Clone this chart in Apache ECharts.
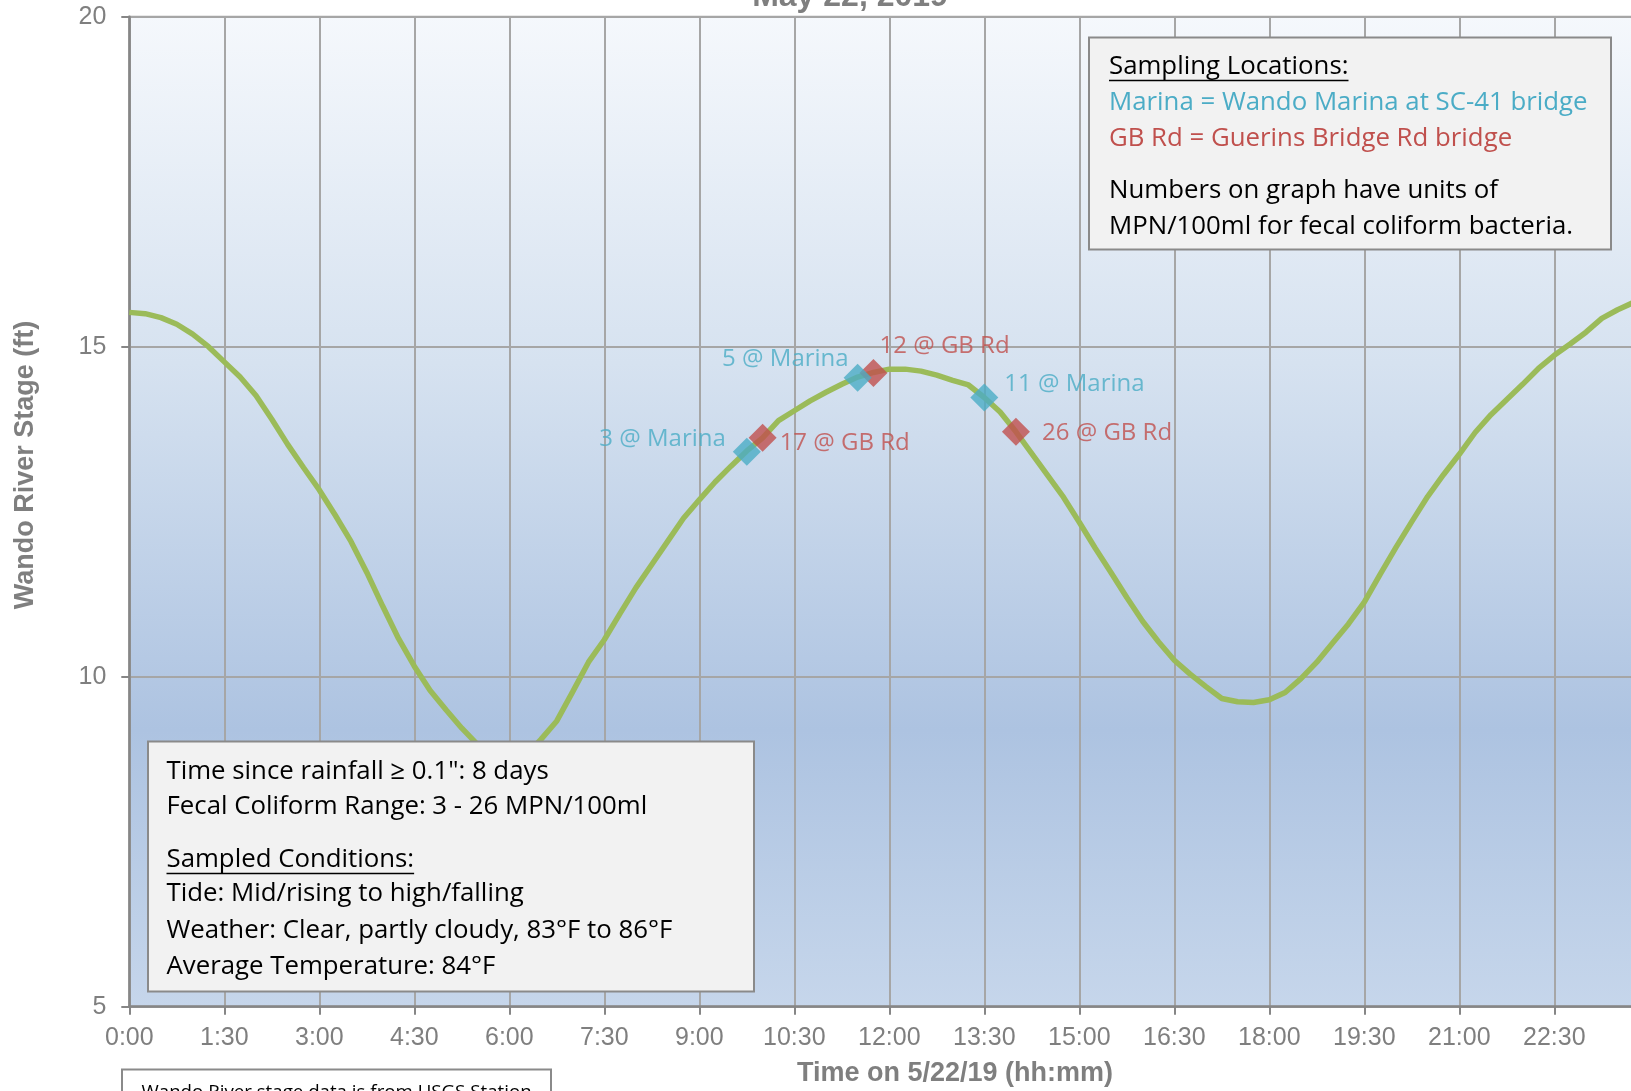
<!DOCTYPE html>
<html>
<head>
<meta charset="utf-8">
<script src="https://cdn.jsdelivr.net/npm/echarts@6/dist/echarts.min.js"></script>
<style>
html,body{margin:0;padding:0;background:#fff;}
#chart{width:1631px;height:1091px;}
</style>
</head>
<body>
<div id="chart"></div>
<script>
// ---------------- DATA ----------------
const chartTitle = 'May 22, 2019';
const yAxisName = 'Wando River Stage (ft)';
const xAxisName = 'Time on 5/22/19 (hh:mm)';
const tickLabels = ['0:00','1:30','3:00','4:30','6:00','7:30','9:00','10:30','12:00','13:30','15:00','16:30','18:00','19:30','21:00','22:30','24:00'];
// stage readings: minutes after midnight and river stage (ft)
const stageTimes = [0,15,30,45,60,75,90,105,120,135,150,165,180,195,210,225,240,255,270,285,300,315,330,345,360,375,390,405,420,435,450,465,480,495,510,525,540,555,570,585,600,615,630,645,660,675,690,705,720,735,750,765,780,795,810,825,840,855,870,885,900,915,930,945,960,975,990,1005,1020,1035,1050,1065,1080,1095,1110,1125,1140,1155,1170,1185,1200,1215,1230,1245,1260,1275,1290,1305,1320,1335,1350,1365,1380,1395,1410,1425,1440];
const stageValues = [15.52,15.50,15.44,15.34,15.19,15.00,14.77,14.54,14.26,13.90,13.52,13.17,12.83,12.45,12.05,11.58,11.07,10.58,10.16,9.79,9.50,9.22,8.97,8.78,8.70,8.80,9.05,9.33,9.77,10.22,10.56,10.96,11.35,11.70,12.05,12.40,12.68,12.95,13.19,13.42,13.62,13.88,14.03,14.18,14.31,14.43,14.54,14.61,14.66,14.66,14.63,14.57,14.49,14.42,14.23,14.01,13.71,13.38,13.05,12.72,12.34,11.95,11.58,11.20,10.84,10.53,10.25,10.04,9.85,9.67,9.62,9.61,9.65,9.76,9.97,10.22,10.51,10.80,11.13,11.55,11.96,12.35,12.73,13.06,13.37,13.70,13.97,14.20,14.43,14.67,14.87,15.04,15.22,15.43,15.56,15.67,15.75];
// samples
const marinaTimes = [585, 690, 810];
const marinaStage = [13.41, 14.53, 14.23];
const marinaCounts = [3, 5, 11];
const gbTimes = [600, 705, 840];
const gbStage = [13.62, 14.60, 13.71];
const gbCounts = [17, 12, 26];
const legendLines = ['Sampling Locations:', 'Marina = Wando Marina at SC-41 bridge', 'GB Rd = Guerins Bridge Rd bridge', 'Numbers on graph have units of', 'MPN/100ml for fecal coliform bacteria.'];
const infoLines = ['Time since rainfall \u2265 0.1": 8 days', 'Fecal Coliform Range: 3 - 26 MPN/100ml', 'Sampled Conditions:', 'Tide: Mid/rising to high/falling', 'Weather: Clear, partly cloudy, 83\u00b0F to 86\u00b0F', 'Average Temperature: 84\u00b0F'];
const noteText = 'Wando River stage data is from USGS Station';

// ---------------- STYLE / LAYOUT ----------------
const BLUE = '#4bacc6', RED = '#c0504d', GREEN = '#9bbb59', GRAY = '#7f7f7f';
const BOXFONT = '"Open Sans", Lato, sans-serif';
const AXFONT = '"Liberation Sans", Arial, sans-serif';
const marinaLabelPos = [
  {position:'left', offset:[-7,-12.5]},
  {position:'left', offset:[5,-18.5]},
  {position:'right', offset:[6,-13.5]}
];
const gbLabelPos = [
  {position:'right', offset:[3,5]},
  {position:'right', offset:[-8,-26.5]},
  {position:'right', offset:[12,1.5]}
];

const measureCtx = document.createElement('canvas').getContext('2d');
function textW(t, font){ measureCtx.font = font; return measureCtx.measureText(t).width; }

const chart = echarts.init(document.getElementById('chart'));

function mkPoints(ts, vs){ return ts.map((t,i)=>[t, vs[i]]); }

function sampleData(ts, vs, counts, posArr){
  return ts.map((t,i)=>({
    value:[t, vs[i], counts[i]],
    label:{position:posArr[i].position, offset:posArr[i].offset, distance:0}
  }));
}

const graphics = [];
// title (cut off at top)
graphics.push({type:'text', style:{text:chartTitle, x:850, y:13, align:'center', verticalAlign:'bottom', font:'bold 32px '+AXFONT, fill:GRAY}});
// y axis name
graphics.push({type:'text', x:26, y:465, rotation:Math.PI/2, style:{text:yAxisName, x:0, y:0, align:'center', verticalAlign:'middle', font:'bold 27px '+AXFONT, fill:GRAY}});
// x axis name
graphics.push({type:'text', style:{text:xAxisName, x:955, y:1074, align:'center', verticalAlign:'middle', font:'bold 27px '+AXFONT, fill:GRAY}});

// legend box
const lgFont = '25.8px ' + BOXFONT;
graphics.push({type:'rect', shape:{x:1089, y:37.5, width:522, height:212}, style:{fill:'#f2f2f2', stroke:'#8a8a8a', lineWidth:2}, z:50});
const lgY = [66.5, 102.5, 139, 191, 226.5];
const lgColors = ['#000', BLUE, RED, '#000', '#000'];
legendLines.forEach((t,i)=>{
  graphics.push({type:'text', style:{text:t, x:1109, y:lgY[i], align:'left', verticalAlign:'middle', font:lgFont, fill:lgColors[i]}, z:51});
});
graphics.push({type:'line', shape:{x1:1109, y1:lgY[0]+14, x2:1109+textW(legendLines[0], lgFont), y2:lgY[0]+14}, style:{stroke:'#000', lineWidth:1.5}, z:51});

// info box
graphics.push({type:'rect', shape:{x:148, y:741.5, width:606, height:250}, style:{fill:'#f2f2f2', stroke:'#8a8a8a', lineWidth:2}, z:50});
const inY = [771.5, 806.5, 859.5, 894, 930.5, 966.5];
infoLines.forEach((t,i)=>{
  graphics.push({type:'text', style:{text:t, x:166.5, y:inY[i], align:'left', verticalAlign:'middle', font:lgFont, fill:'#000'}, z:51});
});
graphics.push({type:'line', shape:{x1:166.5, y1:inY[2]+14, x2:166.5+textW(infoLines[2], lgFont), y2:inY[2]+14}, style:{stroke:'#000', lineWidth:1.5}, z:51});

// note box at bottom (cut off)
graphics.push({type:'rect', shape:{x:122, y:1069.5, width:429, height:60}, style:{fill:'#ffffff', stroke:'#8a8a8a', lineWidth:2}, z:50});
graphics.push({type:'text', style:{text:noteText, x:141.5, y:1093, align:'left', verticalAlign:'middle', font:'18.7px '+BOXFONT, fill:'#000'}, z:51});

const option = {
  animation:false,
  backgroundColor:'#ffffff',
  grid:{
    left:129.3, top:16.7, bottom:84.3, right:-18.3,
    containLabel:false,
    outerBoundsMode:'none',
    show:true,
    borderColor:'#a6a6a6', borderWidth:2,
    backgroundColor:{type:'linear', x:0, y:0, x2:0, y2:1, colorStops:[
      {offset:0, color:'#f5f8fc'},
      {offset:0.35, color:'#d6e2f0'},
      {offset:0.72, color:'#adc3e1'},
      {offset:1, color:'#c6d6eb'}
    ]}
  },
  xAxis:{
    type:'value', min:0, max:1440, interval:90,
    axisLine:{show:true, onZero:false, lineStyle:{color:'#868686', width:2.5}},
    axisTick:{show:true, inside:false, length:8, lineStyle:{color:'#868686', width:2}},
    axisLabel:{color:GRAY, fontSize:25, fontFamily:AXFONT, margin:19, showMaxLabel:false,
      formatter:(v)=>tickLabels[Math.round(v/90)]},
    splitLine:{show:true, lineStyle:{color:'#a6a6a6', width:2}}
  },
  yAxis:{
    type:'value', min:5, max:20, interval:5,
    axisLine:{show:true, onZero:false, lineStyle:{color:'#868686', width:2.5}},
    axisTick:{show:true, inside:false, length:8, lineStyle:{color:'#868686', width:2}},
    axisLabel:{color:GRAY, fontSize:25, fontFamily:AXFONT, margin:23},
    splitLine:{show:true, lineStyle:{color:'#a6a6a6', width:2}}
  },
  series:[
    {type:'line', data:mkPoints(stageTimes, stageValues), symbol:'none', smooth:false, clip:false,
     lineStyle:{color:GREEN, width:5.5}, z:3},
    {type:'scatter', name:'GB Rd', data:sampleData(gbTimes, gbStage, gbCounts, gbLabelPos),
     symbol:'diamond', symbolSize:28, itemStyle:{color:RED}, z:4,
     label:{show:true, color:RED, fontSize:24, fontFamily:BOXFONT, formatter:(p)=>p.value[2]+' @ GB Rd'}},
    {type:'scatter', name:'Marina', data:sampleData(marinaTimes, marinaStage, marinaCounts, marinaLabelPos),
     symbol:'diamond', symbolSize:28, itemStyle:{color:BLUE}, z:5,
     label:{show:true, color:BLUE, fontSize:24, fontFamily:BOXFONT, formatter:(p)=>p.value[2]+' @ Marina'}}
  ],
  graphic:graphics
};
chart.setOption(option);
</script>
</body>
</html>
